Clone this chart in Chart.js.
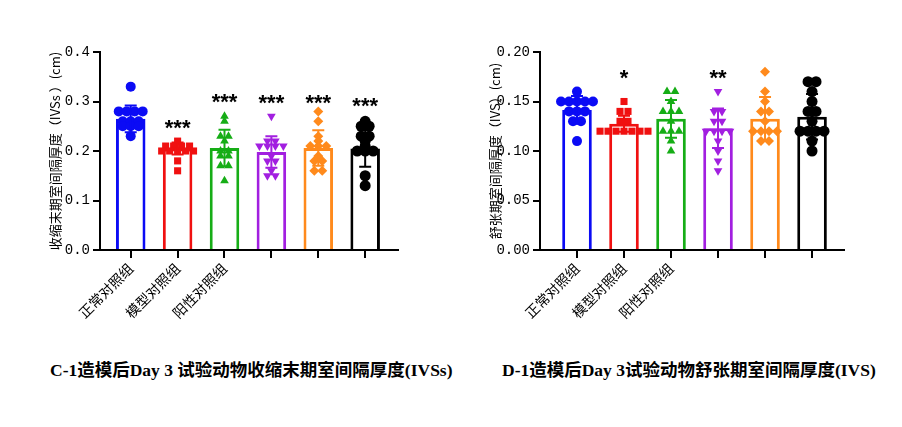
<!DOCTYPE html>
<html lang="zh">
<head>
<meta charset="utf-8">
<title>IVSs / IVS</title>
<script src="https://cdn.jsdelivr.net/npm/chart.js"></script>
<style>
  body { margin: 0; background: #fff; }
  #wrap { position: relative; width: 902px; height: 427px; }
  canvas { position: absolute; top: 0; }
  .cap { position: absolute; top: 356px; font: bold 17.5px "Liberation Serif", "Noto Sans CJK SC", serif; color: #000; white-space: nowrap; }
</style>
</head>
<body>
<div id="wrap">
  <canvas id="chartC" width="451" height="340" style="left:0"></canvas>
  <canvas id="chartD" width="451" height="340" style="left:451px"></canvas>
  <div class="cap" style="left:50px">C-1造模后Day 3 试验动物收缩末期室间隔厚度(IVSs)</div>
  <div class="cap" style="left:502px">D-1造模后Day 3试验动物舒张期室间隔厚度(IVS)</div>
</div>
<script>
// groups (only the first three are labelled in the figure)
const categories = ['正常对照组', '模型对照组', '阳性对照组', '', '', ''];
const colors = ['#0b0bf5', '#f01010', '#16ad16', '#a21fe0', '#ff8a1c', '#000000'];
const pointStyles = ['circle', 'rect', 'triangle', 'triangle', 'rectRot', 'circle'];
const pointRotations = [0, 0, 0, 180, 0, 0];

// C: IVSs (cm)
const meansC = [0.265, 0.205, 0.206, 0.198, 0.206, 0.205];
const sdsC = [0.027, 0.012, 0.037, 0.032, 0.036, 0.037];
const pointsC = [
  [0.33, 0.28, 0.28, 0.28, 0.28, 0.26, 0.26, 0.26, 0.25, 0.25, 0.25, 0.23],
  [0.22, 0.21, 0.21, 0.21, 0.21, 0.20, 0.20, 0.20, 0.20, 0.20, 0.18, 0.16],
  [0.27, 0.26, 0.23, 0.23, 0.22, 0.20, 0.20, 0.19, 0.19, 0.17, 0.17, 0.14],
  [0.27, 0.22, 0.22, 0.21, 0.21, 0.21, 0.21, 0.19, 0.18, 0.18, 0.16, 0.15, 0.15],
  [0.28, 0.26, 0.23, 0.22, 0.21, 0.21, 0.21, 0.19, 0.18, 0.18, 0.16, 0.16],
  [0.26, 0.25, 0.25, 0.23, 0.23, 0.22, 0.21, 0.20, 0.20, 0.20, 0.15, 0.13]
];
const sigC = ['', '***', '***', '***', '***', '***'];
const sigAtC = [null, 0.258, 0.312, 0.31, 0.31, 0.303];
const ticksC = [0, 0.1, 0.2, 0.3, 0.4];

// D: IVS (cm)
const meansD = [0.1415, 0.1275, 0.1325, 0.123, 0.1325, 0.1345];
const sdsD = [0.014, 0.008, 0.019, 0.02, 0.022, 0.023];
const pointsD = [
  [0.16, 0.15, 0.15, 0.15, 0.15, 0.15, 0.14, 0.14, 0.14, 0.13, 0.13, 0.11],
  [0.15, 0.14, 0.14, 0.13, 0.13, 0.12, 0.12, 0.12, 0.12, 0.12, 0.12, 0.12],
  [0.16, 0.16, 0.15, 0.14, 0.14, 0.14, 0.13, 0.12, 0.12, 0.12, 0.11, 0.10],
  [0.16, 0.14, 0.14, 0.13, 0.13, 0.12, 0.12, 0.12, 0.12, 0.11, 0.10, 0.09, 0.08],
  [0.18, 0.16, 0.15, 0.14, 0.14, 0.13, 0.12, 0.12, 0.12, 0.12, 0.11, 0.11],
  [0.17, 0.17, 0.16, 0.15, 0.14, 0.14, 0.13, 0.12, 0.12, 0.12, 0.12, 0.11, 0.10]
];
const sigD = ['', '*', '', '**', '', ''];
const sigAtD = [null, 0.18, null, 0.18, null, null];
const ticksD = [0, 0.05, 0.10, 0.15, 0.20];

// spread equal values sideways like a scatter-dot plot
function swarm(vals, i) {
  const out = [];
  const seen = {};
  vals.forEach(v => {
    const key = v.toFixed(3);
    const n = vals.filter(w => w.toFixed(3) === key).length;
    const j = seen[key] = (seen[key] === undefined ? 0 : seen[key] + 1);
    out.push({ x: i + (j - (n - 1) / 2) * 0.17, y: v });
  });
  return out;
}

// error bars and significance marks, drawn through the chart's scales
const extras = {
  id: 'extras',
  afterDatasetsDraw(chart, args, opts) {
    const ctx = chart.ctx;
    const xs = chart.scales.x, ys = chart.scales.y;
    ctx.save();
    opts.means.forEach((m, i) => {
      const x = xs.getPixelForValue(i);
      const top = ys.getPixelForValue(m + opts.sds[i]);
      const bot = ys.getPixelForValue(m - opts.sds[i]);
      ctx.strokeStyle = colors[i];
      ctx.lineWidth = 2;
      ctx.beginPath();
      ctx.moveTo(x, top); ctx.lineTo(x, bot);
      ctx.moveTo(x - 6, top); ctx.lineTo(x + 6, top);
      ctx.moveTo(x - 6, bot); ctx.lineTo(x + 6, bot);
      ctx.stroke();
      if (opts.sig[i]) {
        ctx.fillStyle = '#000';
        ctx.font = 'bold 22px "Liberation Sans", Arial';
        ctx.textAlign = 'center';
        ctx.textBaseline = 'alphabetic';
        ctx.fillText(opts.sig[i], x, ys.getPixelForValue(opts.sigAt[i]) + 13);
      }
    });
    ctx.restore();
  }
};

function makeChart(id, means, sds, points, sig, sigAt, yTicks, yMax, digits, xMin, xMax, yTitle, axisLeft, padRight) {
  const datasets = [{
    type: 'bar',
    data: means.map((m, i) => ({ x: i, y: m })),
    backgroundColor: '#fff',
    borderColor: colors,
    borderWidth: 3,
    borderSkipped: 'start',
    barPercentage: 0.63,
    categoryPercentage: 1,
    order: 2
  }];
  points.forEach((vals, i) => {
    datasets.push({
      type: 'scatter',
      data: swarm(vals, i),
      pointStyle: pointStyles[i],
      rotation: pointRotations[i],
      pointRadius: i === 5 ? 5.5 : 5,
      backgroundColor: colors[i],
      borderColor: colors[i],
      borderWidth: 0,
      clip: false,
      order: 1
    });
  });
  return new Chart(document.getElementById(id), {
    type: 'bar',
    data: { datasets },
    plugins: [extras],
    options: {
      responsive: false,
      animation: false,
      layout: { autoPadding: false, padding: { left: axisLeft, right: padRight, top: 52, bottom: 0 } },
      plugins: {
        legend: { display: false },
        tooltip: { enabled: false },
        extras: { means, sds, sig, sigAt }
      },
      scales: {
        x: {
          type: 'linear',
          min: xMin,
          max: xMax,
          offset: false,
          bounds: 'data',
          afterBuildTicks: s => { s.ticks = categories.map((c, i) => ({ value: i })); },
          afterFit: s => { s.height = 90; s.paddingLeft = 0; s.paddingRight = 0; },
          grid: { offset: false, drawOnChartArea: false, color: '#000', lineWidth: 2, tickLength: 8 },
          border: { color: '#000', width: 2 },
          ticks: {
            autoSkip: false,
            maxRotation: 45,
            minRotation: 45,
            color: '#000',
            padding: 2,
            font: { family: '"Noto Sans CJK SC"', size: 14 },
            callback: v => categories[v]
          }
        },
        y: {
          min: 0,
          max: yMax,
          afterBuildTicks: s => { s.ticks = yTicks.map(v => ({ value: v })); },
          afterFit: s => { s.width = 57; s.paddingTop = 0; s.paddingBottom = 0; },
          grid: { drawOnChartArea: false, color: '#000', lineWidth: 2, tickLength: 7 },
          border: { color: '#000', width: 2 },
          ticks: {
            color: '#000',
            padding: 3,
            font: { family: '"Liberation Mono"', size: 14 },
            callback: v => v.toFixed(digits)
          },
          title: {
            display: true,
            text: yTitle,
            color: '#000',
            font: { family: '"Noto Sans CJK SC"', size: 13 }
          }
        }
      }
    }
  });
}

makeChart('chartC', meansC, sdsC, pointsC, sigC, sigAtC, ticksC, 0.4, 1, -0.655, 5.70,
  '收缩末期室间隔厚度（IVSs ）(cm)', 43, 53);
makeChart('chartD', meansD, sdsD, pointsD, sigD, sigAtD, ticksD, 0.2, 2, -0.787, 5.68,
  '舒张期室间隔厚度（IVS）(cm)', 32, 58);
</script>
</body>
</html>
